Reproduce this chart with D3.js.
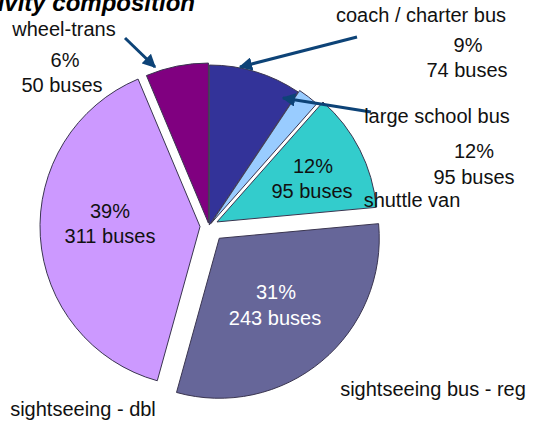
<!DOCTYPE html>
<html>
<head>
<meta charset="utf-8">
<script src="https://cdn.jsdelivr.net/npm/d3@7"></script>
<style>
  body { margin: 0; background: #fff; }
  svg text { font-family: Arial, "Liberation Sans", sans-serif; }
</style>
</head>
<body>
<svg id="chart"></svg>
<script>
// slices clockwise from 12 o'clock
const categories = ["coach / charter bus", "large school bus", "shuttle van", "sightseeing bus - reg", "sightseeing - dbl", "wheel-trans"];
const buses = [74, 17, 95, 243, 311, 50];
const colors = ["#333399", "#99ccff", "#33cccc", "#666699", "#cc99ff", "#800080"];
const explode = [1, 3, 9, 16, 9, 3];

// labels as printed on the chart
const labelLines = [
    { text: "wheel-trans", x: 64, y: 36 },
    { text: "6%", x: 65, y: 67 },
    { text: "50 buses", x: 62, y: 92 },
    { text: "coach / charter bus", x: 421, y: 22 },
    { text: "9%", x: 468, y: 52 },
    { text: "74 buses", x: 467, y: 77 },
    { text: "large school bus", x: 437, y: 123 },
    { text: "12%", x: 474, y: 158 },
    { text: "95 buses", x: 474, y: 184 },
    { text: "12%", x: 313, y: 173 },
    { text: "95 buses", x: 312, y: 198 },
    { text: "shuttle van", x: 412, y: 207 },
    { text: "39%", x: 110, y: 218 },
    { text: "311 buses", x: 110, y: 243 },
    { text: "31%", x: 276, y: 299, fill: "#fff" },
    { text: "243 buses", x: 275, y: 325, fill: "#fff" },
    { text: "sightseeing - dbl", x: 83, y: 416 },
    { text: "sightseeing bus - reg", x: 433, y: 396 }
];

const arrows = [
    [[125, 38], [155, 67]],
    [[357, 37], [240, 67]],
    [[371, 112], [283, 98]]
];

const width = 544, height = 422;
const cx = 209, cy = 226, radius = 160;

const svg = d3.select("#chart")
    .attr("width", width)
    .attr("height", height);

const pie = d3.pie().sort(null).startAngle(0).endAngle(2 * Math.PI);
const arc = d3.arc().innerRadius(0).outerRadius(radius);

const slices = pie(buses);

svg.append("g")
    .attr("transform", `translate(${cx},${cy})`)
    .selectAll("path")
    .data(slices)
    .enter().append("path")
    .attr("transform", (d, i) => {
        const a = (d.startAngle + d.endAngle) / 2;
        return `translate(${Math.sin(a) * explode[i]},${-Math.cos(a) * explode[i]})`;
    })
    .attr("d", arc)
    .attr("fill", (d, i) => colors[i])
    .attr("stroke", "#3a3550")
    .attr("stroke-width", 1);

// title, cut off at the top-left like the source
svg.append("text")
    .attr("x", 195)
    .attr("y", 11)
    .attr("text-anchor", "end")
    .style("font-size", "24px")
    .style("font-weight", "bold")
    .style("font-style", "italic")
    .text("Activity composition");

svg.append("defs").append("marker")
    .attr("id", "head")
    .attr("viewBox", "0 0 10 10")
    .attr("refX", 9)
    .attr("refY", 5)
    .attr("markerWidth", 4.5)
    .attr("markerHeight", 4.5)
    .attr("orient", "auto")
    .append("path")
    .attr("d", "M0,0L10,5L0,10z")
    .attr("fill", "#0d4377");

svg.selectAll(".arrow")
    .data(arrows)
    .enter().append("line")
    .attr("class", "arrow")
    .attr("x1", d => d[0][0])
    .attr("y1", d => d[0][1])
    .attr("x2", d => d[1][0])
    .attr("y2", d => d[1][1])
    .attr("stroke", "#0d4377")
    .attr("stroke-width", 3)
    .attr("marker-end", "url(#head)");

svg.selectAll(".lbl")
    .data(labelLines)
    .enter().append("text")
    .attr("class", "lbl")
    .attr("x", d => d.x)
    .attr("y", d => d.y)
    .attr("text-anchor", "middle")
    .style("font-size", "20px")
    .attr("fill", d => d.fill || "#111")
    .text(d => d.text);
</script>
</body>
</html>
